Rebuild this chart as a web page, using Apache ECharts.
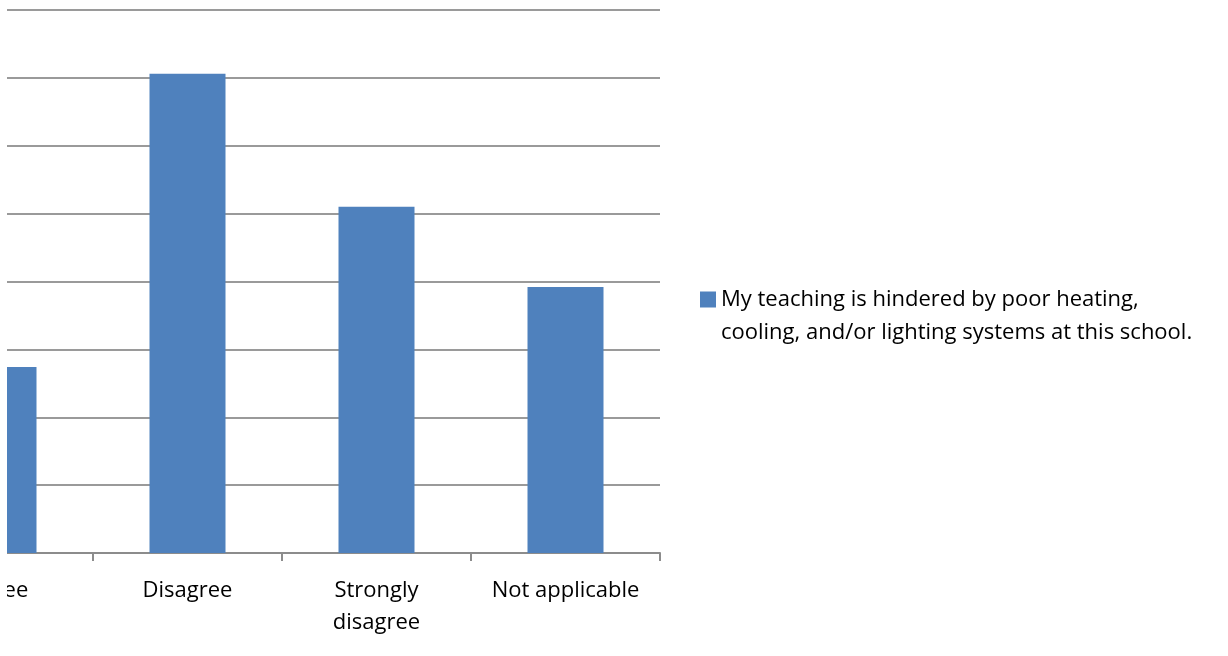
<!DOCTYPE html>
<html>
<head>
<meta charset="utf-8">
<script src="https://cdn.jsdelivr.net/npm/echarts@6/dist/echarts.min.js"></script>
<style>
html,body{margin:0;padding:0;background:#fff;overflow:hidden;}
#wrap{position:absolute;left:7px;top:0;width:1221px;height:656px;overflow:hidden;}
#chart{position:absolute;left:-207px;top:0;width:1428px;height:656px;}
</style>
</head>
<body>
<div id="wrap"><div id="chart"></div></div>
<script>
const categories = ['Agree', 'Disagree', 'Strongly\ndisagree', 'Not applicable'];
const seriesName = 'My teaching is hindered by poor heating,\ncooling, and/or lighting systems at this school.';
const values = [13.7, 35.3, 25.5, 19.6];
const yMin = 0, yMax = 40, yInterval = 5;

const FONT = 'Open Sans';
const chart = echarts.init(document.getElementById('chart'), null, {renderer: 'canvas'});
chart.setOption({
  animation: false,
  backgroundColor: '#ffffff',
  grid: {left: 104, right: 568, top: 10, bottom: 103, containLabel: false},
  legend: {
    show: true,
    left: 900,
    top: 250,
    padding: 0,
    itemWidth: 16,
    itemHeight: 16,
    icon: 'rect',
    data: [seriesName],
    formatter: function (name) { return '\n' + name; },
    textStyle: {fontFamily: FONT, fontSize: 22, color: '#000', lineHeight: 33}
  },
  xAxis: {
    type: 'category',
    data: categories,
    axisLine: {show: true, lineStyle: {color: '#8c8c8c', width: 2}},
    axisTick: {show: true, length: 8, lineStyle: {color: '#8c8c8c', width: 2}},
    axisLabel: {fontFamily: FONT, fontSize: 22, color: '#000', lineHeight: 32, margin: 22, interval: 0}
  },
  yAxis: {
    type: 'value',
    min: yMin, max: yMax, interval: yInterval,
    axisLabel: {show: false},
    axisLine: {show: false},
    axisTick: {show: false},
    splitLine: {show: true, lineStyle: {color: '#9a9a9a', width: 2}}
  },
  series: [{
    name: seriesName,
    type: 'bar',
    data: values,
    barWidth: 76,
    itemStyle: {color: '#4f81bd'}
  }]
});
</script>
</body>
</html>
